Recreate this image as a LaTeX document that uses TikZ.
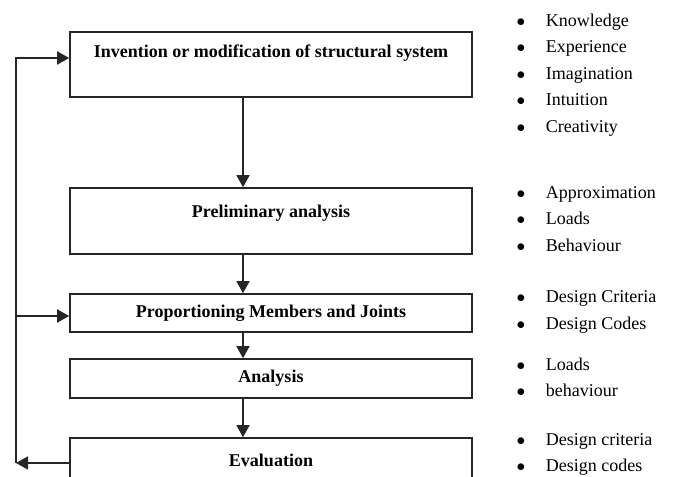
\documentclass[tikz,border=0pt]{standalone}
\usepackage{fontspec}
\setmainfont{Liberation Serif}
\usetikzlibrary{arrows.meta}
\tikzset{
stage/.style={draw=black!85, line width=1.6pt, minimum width=402pt, inner sep=0pt},
stagetext/.style={font=\fontsize{18}{22}\selectfont\bfseries, inner sep=0pt},
feed/.style={line width=1.6pt, draw=black!85,
	-{Triangle[length=12pt,width=13pt]}},
notes/.style={anchor=west, inner sep=0pt, font=\fontsize{18}{26.5}\selectfont}
}
\newcommand{\pts}[1]{\begin{tabular}{@{}l@{\hspace{20.5pt}}l@{}}#1\end{tabular}}
\newcommand{\itm}[1]{$\bullet$ & #1\\}

\begin{document}
\begin{tikzpicture}[x=1pt, y=-1pt]
	\useasboundingbox (0,0) rectangle (673,477);
	\clip (0,0) rectangle (673,477);
	\node[stage, minimum height=65pt] (b1) at (271,64.5) {};
	\node[stage, minimum height=66pt] (b2) at (271,221) {};
	\node[stage, minimum height=38pt] (b3) at (271,313) {};
	\node[stage, minimum height=39pt] (b4) at (271,378.5) {};
	\node[stage, minimum height=50pt] (b5) at (271,463) {};
	\node[stagetext] (t1) at ([yshift=11pt]b1.center) {Invention or modification of structural system};
	\node[stagetext] (t2) at ([yshift=8pt]b2.center) {Preliminary analysis};
	\node[stagetext] (t3) at (b3.center) {Proportioning Members and Joints};
	\node[stagetext] (t4) at (b4.center) {Analysis};
	\node[stagetext] (t5) at ([yshift=3pt]b5.center) {Evaluation};
	\coordinate (ax) at (243,0);
	\coordinate (lp) at (16,0);
	\draw[feed] (b1.south -| ax) -- (b2.north -| ax);
	\draw[feed] (b2.south -| ax) -- (b3.north -| ax);
	\draw[feed] (b3.south -| ax) -- (b4.north -| ax);
	\draw[feed] (b4.south -| ax) -- (b5.north -| ax);
	\draw[feed] (b5.west) -- (b5.west -| lp);
	\draw[feed] (b5.west -| lp) |- ([yshift=6.5pt]b1.west);
	\draw[feed] ([yshift=-3pt]b3.west -| lp) -- ([yshift=-3pt]b3.west);
	\node[notes] (n1) at (516.5,74) {\pts{\itm{Knowledge}\itm{Experience}\itm{Imagination}\itm{Intuition}\itm{Creativity}}};
	\node[notes] (n2) at (516.5,219.5) {\pts{\itm{Approximation}\itm{Loads}\itm{Behaviour}}};
	\node[notes] (n3) at (516.5,310.5) {\pts{\itm{Design Criteria}\itm{Design Codes}}};
	\node[notes] (n4) at (516.5,378) {\pts{\itm{Loads}\itm{behaviour}}};
	\node[notes] (n5) at (516.5,453) {\pts{\itm{Design criteria}\itm{Design codes}}};
\end{tikzpicture}
\end{document}
